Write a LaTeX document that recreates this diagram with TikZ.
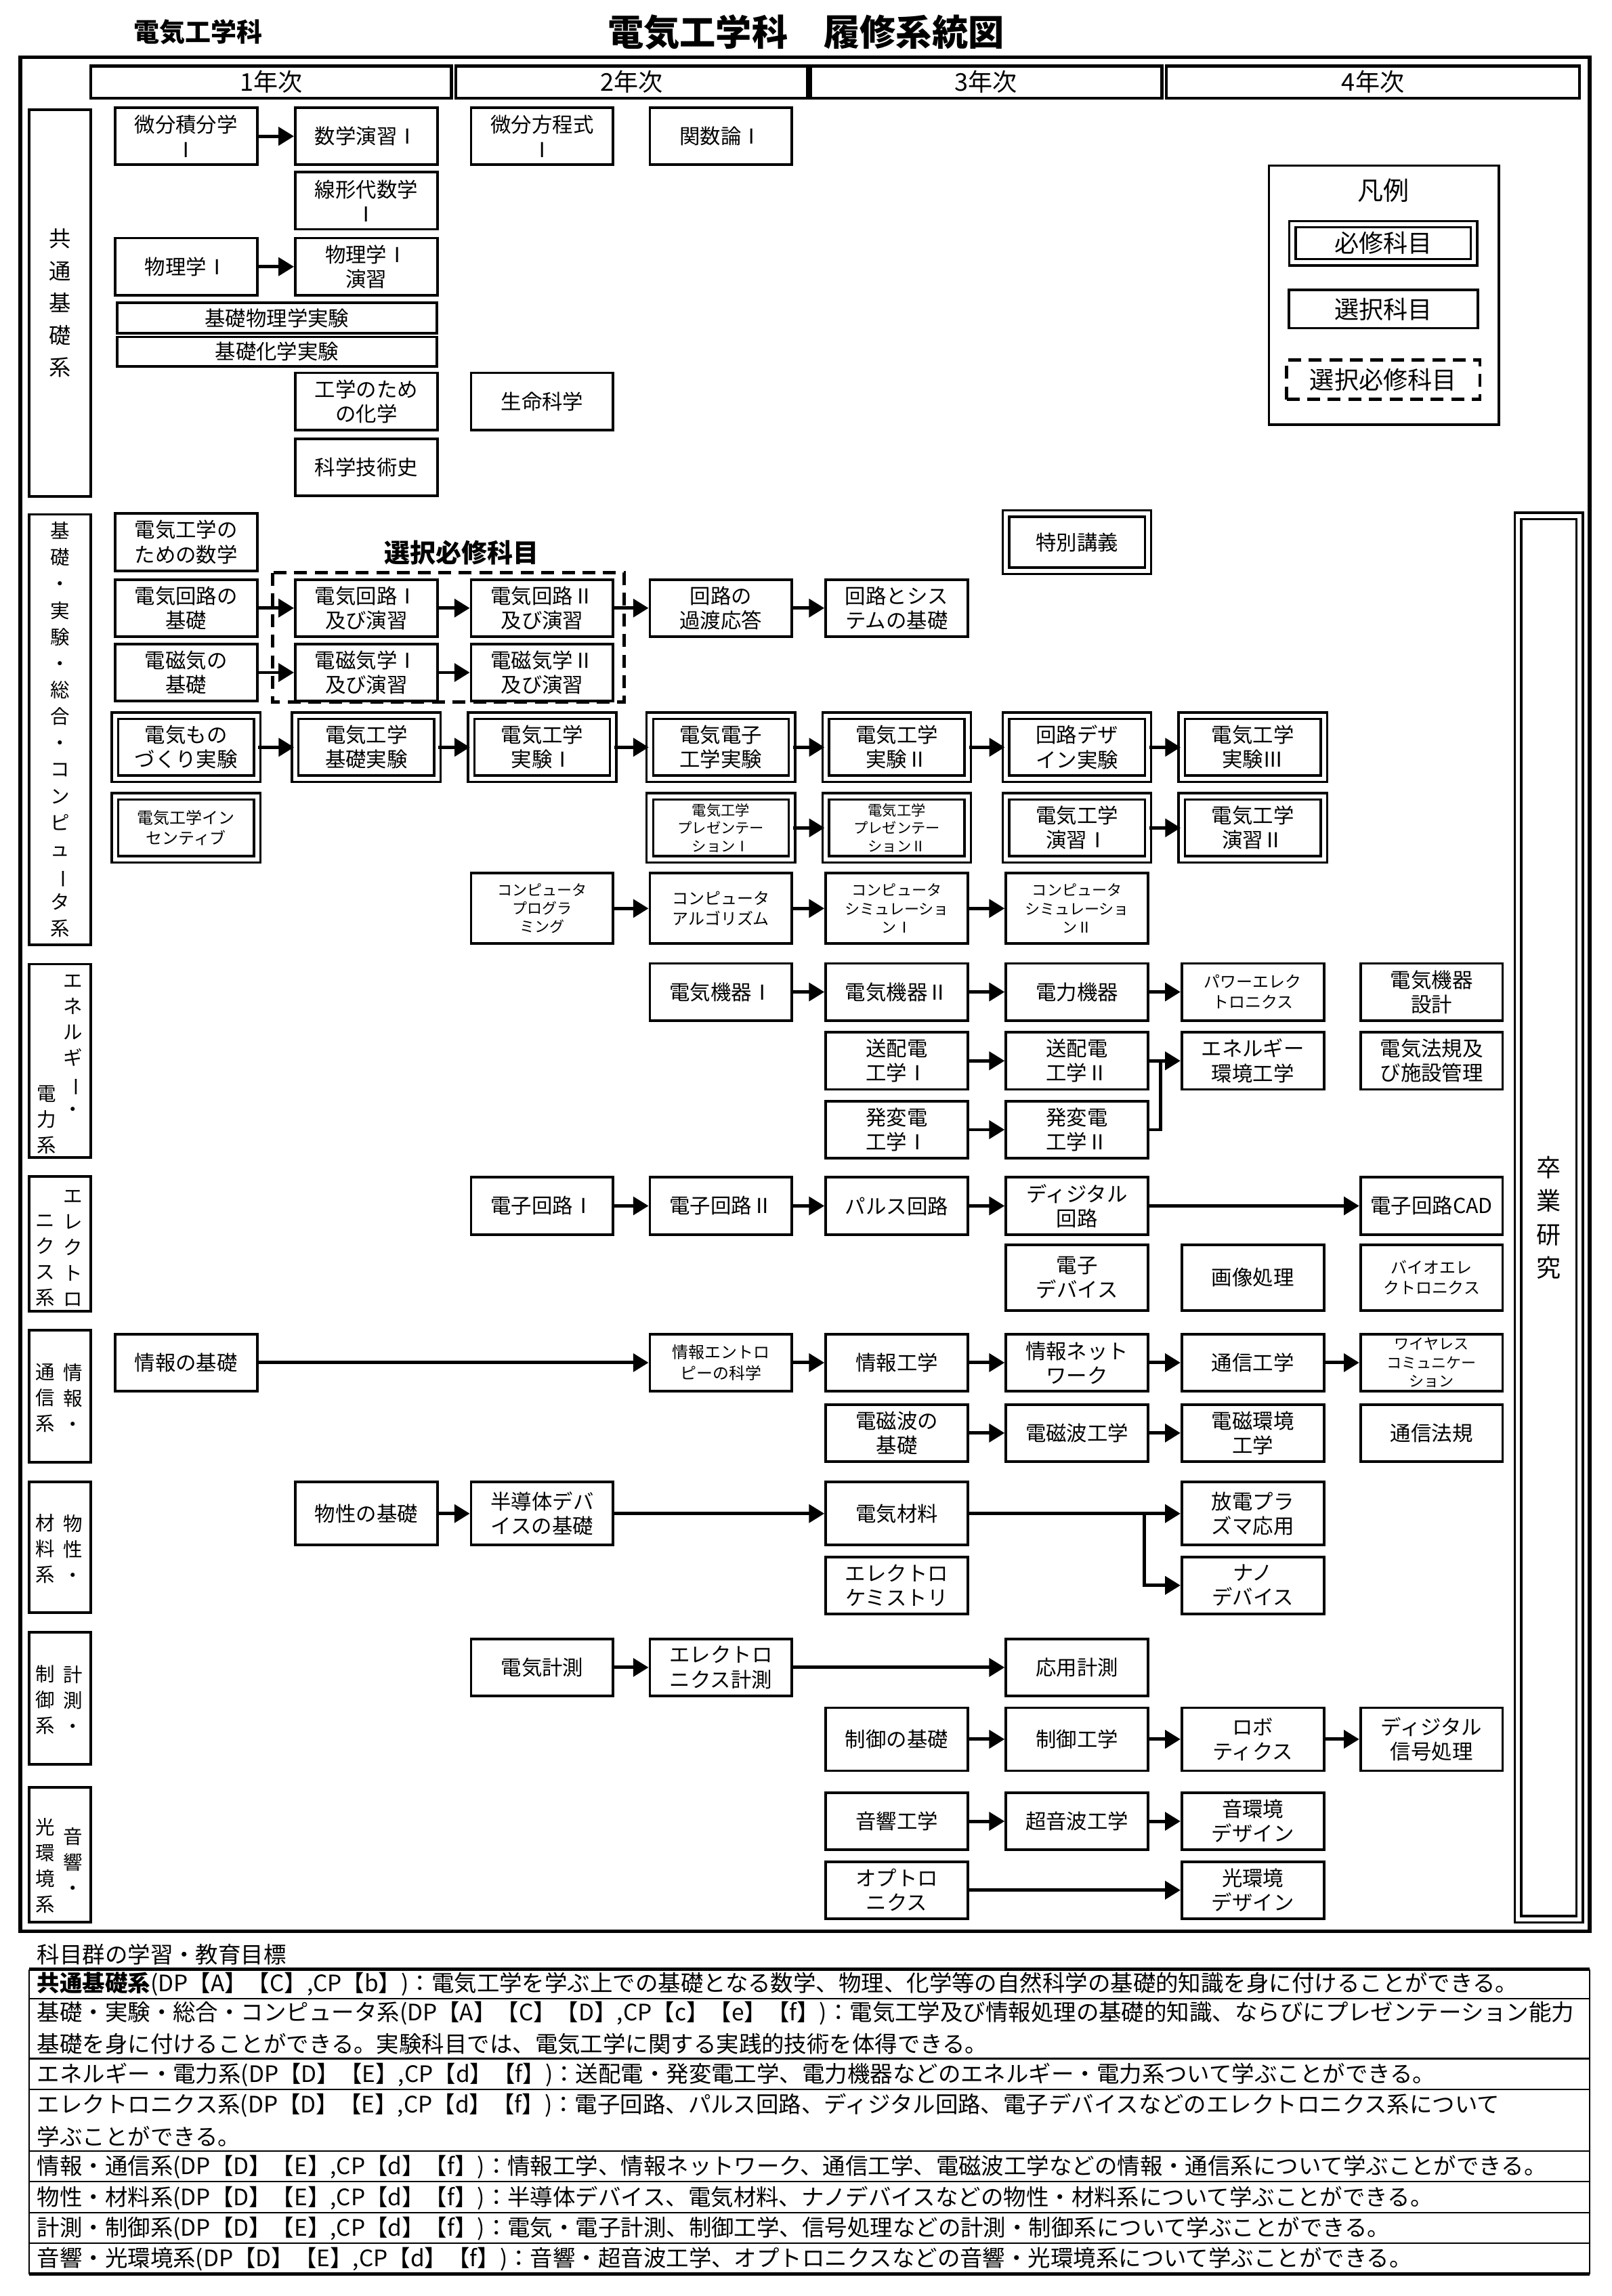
\documentclass[tikz,border=0pt]{standalone}
\usepackage{fontspec}
\setmainfont{Noto Sans CJK JP}
\usetikzlibrary{arrows.meta}
\newcommand{\vbar}{\rotatebox[origin=c]{-90}{ー}}
\tikzset{
  box/.style={draw, line width=1pt, minimum width=1.94cm, minimum height=0.78cm,
    inner sep=1pt, align=center, font=\fontsize{8}{9.5}\selectfont},
  sm/.style={font=\fontsize{6.3}{8}\selectfont},
  req/.style={box, double, double distance=1.6pt, line width=0.9pt},
  cat/.style={draw, line width=1pt, minimum width=0.84cm, inner sep=0pt},
  vtext/.style={align=center, inner sep=0pt, font=\fontsize{8.5}{12.5}\selectfont},
  vsm/.style={align=center, inner sep=0pt, font=\fontsize{7.5}{10}\selectfont},
  year/.style={draw, line width=1.2pt, minimum height=0.44cm, inner sep=0pt,
    font=\fontsize{9.5}{10}\selectfont},
  arr/.style={line width=1.3pt, -{Triangle[length=6pt,width=7pt]}},
  dsh/.style={line width=1.3pt, dash pattern=on 5pt off 3pt},
  row/.style={anchor=west, inner sep=0pt, font=\fontsize{8.8}{10}\selectfont},
}
\begin{document}
\begin{tikzpicture}[x=0.02cm, y=-0.02cm]
  \useasboundingbox (0,0) rectangle (1100,1567);
  % titles
  \node[font=\bfseries\fontsize{10}{11}\selectfont] (dep) at (135,22) {電気工学科};
  \node[font=\bfseries\fontsize{14}{15}\selectfont] (ttl) at (550,22) {電気工学科　履修系統図};
  \draw[line width=1.5pt] (14,39) rectangle (1085,1318);
  % years
  \node[year, minimum width=4.92cm] (y1) at (185,56) {1年次};
  \node[year, minimum width=4.80cm] (y2) at (431,56) {2年次};
  \node[year, minimum width=4.80cm] (y3) at (673,56) {3年次};
  \node[year, minimum width=5.64cm] (y4) at (937,56) {4年次};
  % categories
  \node[cat, minimum height=5.28cm] (ka) at (41,207) {};
  \node[vtext] at (ka) {共\\通\\基\\礎\\系};
  \node[cat, minimum height=5.88cm] (kb) at (41,498) {};
  \node[vsm, font=\fontsize{7.5}{10.3}\selectfont] at (kb) {基\\礎\\・\\実\\験\\・\\総\\合\\・\\コ\\ン\\ピ\\ュ\\\vbar\\タ\\系};
  \node[cat, minimum height=2.64cm] (kc) at (41,724) {};
  \node[vsm, anchor=north] at (50,665) {エ\\ネ\\ル\\ギ\\\vbar\\・};
  \node[vsm, anchor=south] at (32,788) {電\\力\\系};
  \node[cat, minimum height=1.84cm] (kd) at (41,849) {};
  \node[vsm, anchor=south] at (50,892) {エ\\レ\\ク\\ト\\ロ};
  \node[vsm, anchor=south] at (31,892) {ニ\\ク\\ス\\系};
  \node[cat, minimum height=1.80cm] (ke) at (41,953) {};
  \node[vsm] at (50,954) {情\\報\\・};
  \node[vsm] at (31,954) {通\\信\\系};
  \node[cat, minimum height=1.78cm] (kf) at (41,1056) {};
  \node[vsm] at (50,1057) {物\\性\\・};
  \node[vsm] at (31,1057) {材\\料\\系};
  \node[cat, minimum height=1.80cm] (kg) at (41,1159) {};
  \node[vsm] at (50,1160) {計\\測\\・};
  \node[vsm] at (31,1160) {制\\御\\系};
  \node[cat, minimum height=1.84cm] (kh) at (41,1266) {};
  \node[vsm, anchor=south] at (50,1294) {音\\響\\・};
  \node[vsm, anchor=south] at (31,1306) {光\\環\\境\\系};
  % legend
  \draw[line width=1pt] (866,113) rectangle (1023,290);
  \node[font=\fontsize{10}{11}\selectfont] (lg) at (944,130) {凡例};
  \node[box, double, double distance=1.6pt, line width=0.9pt, minimum width=2.48cm, minimum height=0.52cm, font=\fontsize{9.5}{10}\selectfont] (lg1) at (944,166) {必修科目};
  \node[box, minimum width=2.58cm, minimum height=0.52cm, font=\fontsize{9.5}{10}\selectfont] (lg2) at (944,211) {選択科目};
  \node[box, dsh, minimum width=2.64cm, minimum height=0.54cm, font=\fontsize{9.5}{10}\selectfont] (lg3) at (944,259) {選択必修科目};
  % kyotsu kiso
  \node[box] (bsk) at (127,93) {微分積分学\\Ⅰ};
  \node[box] (sue) at (250,93) {数学演習Ⅰ};
  \node[box] (bph) at (370,93) {微分方程式\\Ⅰ};
  \node[box] (kan) at (492,93) {関数論Ⅰ};
  \node[box] (sen) at (250,137) {線形代数学\\Ⅰ};
  \node[box] (but) at (127,182) {物理学Ⅰ};
  \node[box] (bte) at (250,182) {物理学Ⅰ\\演習};
  \node[box, minimum width=4.36cm, minimum height=0.42cm] (kbj) at (189,217) {基礎物理学実験};
  \node[box, minimum width=4.36cm, minimum height=0.40cm] (kkj) at (189,240) {基礎化学実験};
  \node[box] (kgk) at (250,274) {工学のため\\の化学};
  \node[box] (sei) at (370,274) {生命科学};
  \node[box] (kgs) at (250,319) {科学技術史};
  \draw[arr] (bsk) -- (sue);
  \draw[arr] (but) -- (bte);
  % kiso jikken
  \node[box] (dsg) at (127,370) {電気工学の\\ための数学};
  \node[req] (tok) at (735,370) {特別講義};
  \node[font=\bfseries\fontsize{10}{11}\selectfont] (snt) at (315,377) {選択必修科目};
  \draw[dsh] (186,391) rectangle (426,479);
  \node[box] (dkk) at (127,415) {電気回路の\\基礎};
  \node[box] (dk1) at (250,415) {電気回路Ⅰ\\及び演習};
  \node[box] (dk2) at (370,415) {電気回路Ⅱ\\及び演習};
  \node[box] (kto) at (492,415) {回路の\\過渡応答};
  \node[box] (kts) at (612,415) {回路とシス\\テムの基礎};
  \node[box] (djk) at (127,459) {電磁気の\\基礎};
  \node[box] (dj1) at (250,459) {電磁気学Ⅰ\\及び演習};
  \node[box] (dj2) at (370,459) {電磁気学Ⅱ\\及び演習};
  \draw[arr] (dkk) -- (dk1);
  \draw[arr] (dk1) -- (dk2);
  \draw[arr] (dk2) -- (kto);
  \draw[arr] (kto) -- (kts);
  \draw[arr] (djk) -- (dj1);
  \draw[arr] (dj1) -- (dj2);
  \node[req, minimum height=0.86cm] (ex0) at (127,510) {電気もの\\づくり実験};
  \node[req, minimum height=0.86cm] (ex1) at (250,510) {電気工学\\基礎実験};
  \node[req, minimum height=0.86cm] (ex2) at (370,510) {電気工学\\実験Ⅰ};
  \node[req, minimum height=0.86cm] (ex3) at (492,510) {電気電子\\工学実験};
  \node[req, minimum height=0.86cm] (ex4) at (612,510) {電気工学\\実験Ⅱ};
  \node[req, minimum height=0.86cm] (ex5) at (735,510) {回路デザ\\イン実験};
  \node[req, minimum height=0.86cm] (ex6) at (855,510) {電気工学\\実験Ⅲ};
  \foreach \a/\b in {ex0/ex1,ex1/ex2,ex2/ex3,ex3/ex4,ex4/ex5,ex5/ex6}
    \draw[arr] (\a) -- (\b);
  \node[req, minimum height=0.86cm, sm] (inc) at (127,565) {電気工学イン\\センティブ};
  \node[req, minimum height=0.86cm, font=\fontsize{5.6}{7}\selectfont] (pr1) at (492,565) {電気工学\\プレゼンテー\\ションⅠ};
  \node[req, minimum height=0.86cm, font=\fontsize{5.6}{7}\selectfont] (pr2) at (612,565) {電気工学\\プレゼンテー\\ションⅡ};
  \node[req, minimum height=0.86cm] (en1) at (735,565) {電気工学\\演習Ⅰ};
  \node[req, minimum height=0.86cm] (en2) at (855,565) {電気工学\\演習Ⅱ};
  \draw[arr] (pr1) -- (pr2);
  \draw[arr] (en1) -- (en2);
  \node[box, minimum height=0.96cm, font=\fontsize{5.8}{7.2}\selectfont] (cpg) at (370,620) {コンピュータ\\プログラ\\ミング};
  \node[box, minimum height=0.96cm, sm] (cal) at (492,620) {コンピュータ\\アルゴリズム};
  \node[box, minimum height=0.96cm, font=\fontsize{5.8}{7.2}\selectfont] (cs1) at (612,620) {コンピュータ\\シミュレーショ\\ンⅠ};
  \node[box, minimum height=0.96cm, font=\fontsize{5.8}{7.2}\selectfont] (cs2) at (735,620) {コンピュータ\\シミュレーショ\\ンⅡ};
  \draw[arr] (cpg) -- (cal);
  \draw[arr] (cal) -- (cs1);
  \draw[arr] (cs1) -- (cs2);
  % sotsuken
  \node[draw, double, double distance=1.6pt, line width=0.9pt, minimum width=0.84cm, minimum height=19.16cm] (sot) at (1057,831) {};
  \node[vtext, font=\fontsize{9.5}{13}\selectfont] at (1057,831) {卒\\業\\研\\究};
  % energy
  \node[box] (dk1m) at (492,677) {電気機器Ⅰ};
  \node[box] (dk2m) at (612,677) {電気機器Ⅱ};
  \node[box] (drk) at (735,677) {電力機器};
  \node[box, sm] (pwe) at (855,677) {パワーエレク\\トロニクス};
  \node[box] (dks) at (977,677) {電気機器\\設計};
  \node[box] (sh1) at (612,724) {送配電\\工学Ⅰ};
  \node[box] (sh2) at (735,724) {送配電\\工学Ⅱ};
  \node[box] (ene) at (855,724) {エネルギー\\環境工学};
  \node[box] (dhk) at (977,724) {電気法規及\\び施設管理};
  \node[box] (hh1) at (612,771) {発変電\\工学Ⅰ};
  \node[box] (hh2) at (735,771) {発変電\\工学Ⅱ};
  \draw[arr] (dk1m) -- (dk2m);
  \draw[arr] (dk2m) -- (drk);
  \draw[arr] (drk) -- (pwe);
  \draw[arr] (sh1) -- (sh2);
  \draw[arr] (sh2) -- (ene);
  \draw[arr] (hh1) -- (hh2);
  \coordinate (ejn) at (792,724);
  \draw[line width=1.3pt] (hh2.east) -| (ejn);
  % electronics
  \node[box] (ec1) at (370,823) {電子回路Ⅰ};
  \node[box] (ec2) at (492,823) {電子回路Ⅱ};
  \node[box] (pls) at (612,823) {パルス回路};
  \node[box] (dgc) at (735,823) {ディジタル\\回路};
  \node[box] (cad) at (977,823) {電子回路CAD};
  \node[box, minimum height=0.9cm] (edv) at (735,872) {電子\\デバイス};
  \node[box, minimum height=0.9cm] (gzs) at (855,872) {画像処理};
  \node[box, minimum height=0.9cm, sm] (bio) at (977,872) {バイオエレ\\クトロニクス};
  \draw[arr] (ec1) -- (ec2);
  \draw[arr] (ec2) -- (pls);
  \draw[arr] (pls) -- (dgc);
  \draw[arr] (dgc) -- (cad);
  % info
  \node[box] (jk) at (127,930) {情報の基礎};
  \node[box, sm] (jen) at (492,930) {情報エントロ\\ピーの科学};
  \node[box] (jkg) at (612,930) {情報工学};
  \node[box] (jnw) at (735,930) {情報ネット\\ワーク};
  \node[box] (tsk) at (855,930) {通信工学};
  \node[box, font=\fontsize{5.8}{7.2}\selectfont] (wls) at (977,930) {ワイヤレス\\コミュニケー\\ション};
  \node[box] (dhk2) at (612,978) {電磁波の\\基礎};
  \node[box] (dhg) at (735,978) {電磁波工学};
  \node[box] (dkg) at (855,978) {電磁環境\\工学};
  \node[box] (tsh) at (977,978) {通信法規};
  \foreach \a/\b in {jk/jen,jen/jkg,jkg/jnw,jnw/tsk,tsk/wls,dhk2/dhg,dhg/dkg}
    \draw[arr] (\a) -- (\b);
  % materials
  \node[box, minimum height=0.86cm] (bsei) at (250,1033) {物性の基礎};
  \node[box, minimum height=0.86cm] (hdt) at (370,1033) {半導体デバ\\イスの基礎};
  \node[box, minimum height=0.86cm] (dzr) at (612,1033) {電気材料};
  \node[box, minimum height=0.86cm] (hpl) at (855,1033) {放電プラ\\ズマ応用};
  \node[box] (ekm) at (612,1082) {エレクトロ\\ケミストリ};
  \node[box] (nan) at (855,1082) {ナノ\\デバイス};
  \draw[arr] (bsei) -- (hdt);
  \draw[arr] (hdt) -- (dzr);
  \draw[arr] (dzr) -- (hpl);
  \coordinate (mjn) at (781,1033);
  \draw[arr] (mjn) |- (nan.west);
  % measurement
  \node[box] (dks2) at (370,1138) {電気計測};
  \node[box] (eks) at (492,1138) {エレクトロ\\ニクス計測};
  \node[box] (oys) at (735,1138) {応用計測};
  \node[box, minimum height=0.86cm] (sgk) at (612,1187) {制御の基礎};
  \node[box, minimum height=0.86cm] (sgg) at (735,1187) {制御工学};
  \node[box, minimum height=0.86cm] (rob) at (855,1187) {ロボ\\ティクス};
  \node[box, minimum height=0.86cm] (dsp) at (977,1187) {ディジタル\\信号処理};
  \foreach \a/\b in {dks2/eks,eks/oys,sgk/sgg,sgg/rob,rob/dsp}
    \draw[arr] (\a) -- (\b);
  % acoustics
  \node[box] (onk) at (612,1243) {音響工学};
  \node[box] (cok) at (735,1243) {超音波工学};
  \node[box] (okd) at (855,1243) {音環境\\デザイン};
  \node[box] (opt) at (612,1290) {オプトロ\\ニクス};
  \node[box] (hkd) at (855,1290) {光環境\\デザイン};
  \draw[arr] (onk) -- (cok);
  \draw[arr] (cok) -- (okd);
  \draw[arr] (opt) -- (hkd);
  % goals
  \node[row] (gt) at (25,1334) {科目群の学習・教育目標};
  \draw[line width=1.5pt] (20,1344) -- (1085,1344);
  \draw[line width=1.5pt] (20,1552) -- (1085,1552);
  \draw[line width=0.6pt] (20,1344) -- (20,1552) (1085,1344) -- (1085,1552);
  \foreach \yy in {1364,1405,1426,1468,1489,1510,1531}
    \draw[line width=0.6pt] (20,\yy) -- (1085,\yy);
  \node[row] (g1) at (25,1354) {\textbf{共通基礎系}(DP【A】【C】,CP【b】)：電気工学を学ぶ上での基礎となる数学、物理、化学等の自然科学の基礎的知識を身に付けることができる。};
  \node[row] (g2) at (25,1374) {基礎・実験・総合・コンピュータ系(DP【A】【C】【D】,CP【c】【e】【f】)：電気工学及び情報処理の基礎的知識、ならびにプレゼンテーション能力};
  \node[row] (g2b) at (25,1395) {基礎を身に付けることができる。実験科目では、電気工学に関する実践的技術を体得できる。};
  \node[row] (g3) at (25,1416) {エネルギー・電力系(DP【D】【E】,CP【d】【f】)：送配電・発変電工学、電力機器などのエネルギー・電力系ついて学ぶことができる。};
  \node[row] (g4) at (25,1437) {エレクトロニクス系(DP【D】【E】,CP【d】【f】)：電子回路、パルス回路、ディジタル回路、電子デバイスなどのエレクトロニクス系について};
  \node[row] (g4b) at (25,1458) {学ぶことができる。};
  \node[row] (g5) at (25,1479) {情報・通信系(DP【D】【E】,CP【d】【f】)：情報工学、情報ネットワーク、通信工学、電磁波工学などの情報・通信系について学ぶことができる。};
  \node[row] (g6) at (25,1500) {物性・材料系(DP【D】【E】,CP【d】【f】)：半導体デバイス、電気材料、ナノデバイスなどの物性・材料系について学ぶことができる。};
  \node[row] (g7) at (25,1521) {計測・制御系(DP【D】【E】,CP【d】【f】)：電気・電子計測、制御工学、信号処理などの計測・制御系について学ぶことができる。};
  \node[row] (g8) at (25,1542) {音響・光環境系(DP【D】【E】,CP【d】【f】)：音響・超音波工学、オプトロニクスなどの音響・光環境系について学ぶことができる。};
\end{tikzpicture}
\end{document}
